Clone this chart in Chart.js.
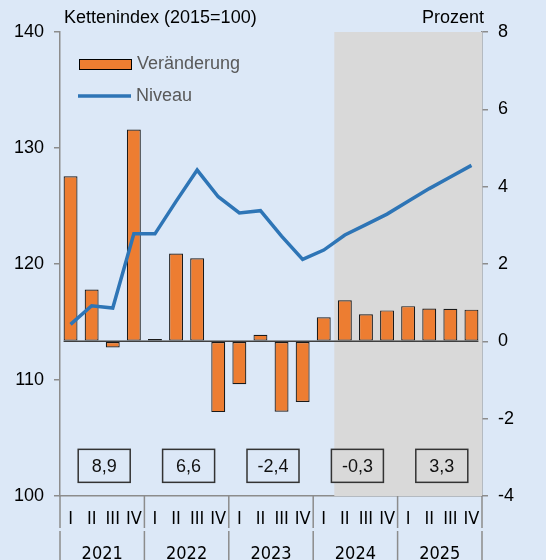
<!DOCTYPE html>
<html>
<head>
<meta charset="utf-8">
<script src="https://cdn.jsdelivr.net/npm/chart.js@4.4.1/dist/chart.umd.min.js"></script>
<style>
  html, body { margin: 0; padding: 0; background: #dce8f7; }
  #wrap { width: 546px; height: 560px; }
</style>
</head>
<body>
<div id="wrap"><canvas id="chart" width="546" height="560"></canvas></div>
<script>
const quarters = ["I", "II", "III", "IV", "I", "II", "III", "IV", "I", "II", "III", "IV",
  "I", "II", "III", "IV", "I", "II", "III", "IV"];
const years = ["2021", "2022", "2023", "2024", "2025"];
// Veraenderung gegenueber Vorquartal, Prozent (rechte Achse)
const veraenderung = [4.27, 1.34, -0.16, 5.48, 0.06, 2.27, 2.15, -1.83, -1.11, 0.17,
  -1.82, -1.57, 0.62, 1.06, 0.70, 0.80, 0.91, 0.85, 0.84, 0.82];
// Niveau, Kettenindex 2015=100 (linke Achse)
const niveau = [114.8, 116.4, 116.2, 122.6, 122.6, 125.4, 128.1, 125.8, 124.4, 124.6,
  122.4, 120.4, 121.2, 122.5, 123.4, 124.3, 125.4, 126.5, 127.5, 128.5];
// Jahresraten in Prozent
const jahresraten = ["8,9", "6,6", "-2,4", "-0,3", "3,3"];
const prognoseAb = 13; // erstes Prognosequartal (2024 II)

const bg = "#dce8f7";
const shade = "#d9d9d9";
const orange = "#ed7d31";
const blue = "#2e75b6";
const axisGray = "#8c8c8c";
const sans = "'Liberation Sans', Arial, sans-serif";
const narrow = "'Liberation Sans Narrow', 'Arial Narrow', 'DejaVu Sans Condensed', sans-serif";

// Grenze vor Quartal i (Pixel)
const edge = (x, i) => {
  if (i <= 0) return x.left;
  if (i >= quarters.length) return x.right;
  return (x.getPixelForValue(i - 1) + x.getPixelForValue(i)) / 2;
};

const deko = {
  id: "deko",
  beforeDraw(chart) {
    const ctx = chart.ctx;
    ctx.save();
    ctx.fillStyle = bg;
    ctx.fillRect(0, 0, chart.width, chart.height);
    ctx.restore();
  },
  beforeDatasetsDraw(chart) {
    const ctx = chart.ctx;
    const a = chart.chartArea;
    const x = chart.scales.x;
    const x0 = edge(x, prognoseAb);
    ctx.save();
    ctx.fillStyle = shade;
    ctx.fillRect(x0, a.top, a.right - x0, a.bottom - a.top);
    ctx.restore();
  },
  afterDatasetsDraw(chart) {
    const ctx = chart.ctx;
    const x = chart.scales.x;
    const y1 = chart.scales.y1;
    const bars = chart.getDatasetMeta(1).data;
    const w = bars[0].width;
    const yz = y1.getPixelForValue(0);
    ctx.save();
    ctx.strokeStyle = "#404040";
    ctx.lineWidth = 1.5;
    ctx.beginPath();
    ctx.moveTo(x.getPixelForValue(0) - w / 2, yz);
    ctx.lineTo(x.getPixelForValue(quarters.length - 1) + w / 2, yz);
    ctx.stroke();
    ctx.restore();
  },
  afterDraw(chart) {
    const ctx = chart.ctx;
    const a = chart.chartArea;
    const x = chart.scales.x;
    const y1 = chart.scales.y1;
    ctx.save();

    // Trennlinien unter der Achse
    ctx.strokeStyle = axisGray;
    ctx.lineWidth = 1.5;
    for (let k = 0; k <= years.length; k++) {
      const px = edge(x, k * 4);
      ctx.beginPath();
      ctx.moveTo(px, a.bottom);
      ctx.lineTo(px, 528);
      ctx.moveTo(px, 531);
      ctx.lineTo(px, chart.height);
      ctx.stroke();
    }

    // Jahre
    ctx.fillStyle = "#000";
    ctx.font = "18px " + narrow;
    ctx.textAlign = "center";
    ctx.textBaseline = "middle";
    for (let k = 0; k < years.length; k++) {
      const cx = (edge(x, k * 4) + edge(x, k * 4 + 4)) / 2;
      ctx.fillText(years[k], cx, 554);
    }

    // Kaesten mit Jahresraten
    const boxY = y1.getPixelForValue(-3.22);
    ctx.font = "18px " + sans;
    for (let k = 0; k < jahresraten.length; k++) {
      const cx = (edge(x, k * 4) + edge(x, k * 4 + 4)) / 2 + 2;
      ctx.fillStyle = cx > edge(x, prognoseAb) ? shade : bg;
      ctx.fillRect(cx - 26, boxY - 16.5, 52, 33);
      ctx.strokeStyle = "#333";
      ctx.lineWidth = 1.5;
      ctx.strokeRect(cx - 26, boxY - 16.5, 52, 33);
      ctx.fillStyle = "#111";
      ctx.fillText(jahresraten[k], cx, boxY + 1);
    }

    // Achsentitel
    ctx.fillStyle = "#000";
    ctx.textAlign = "left";
    ctx.fillText("Kettenindex (2015=100)", 64, 18);
    ctx.textAlign = "right";
    ctx.fillText("Prozent", 484, 18);

    // Legende
    const ds = chart.data.datasets;
    ctx.fillStyle = orange;
    ctx.fillRect(79, 59, 52, 10);
    ctx.strokeStyle = "#000";
    ctx.lineWidth = 1;
    ctx.strokeRect(79.5, 59.5, 52, 10);
    ctx.strokeStyle = blue;
    ctx.lineWidth = 3.5;
    ctx.beginPath();
    ctx.moveTo(78, 96);
    ctx.lineTo(131, 96);
    ctx.stroke();
    ctx.fillStyle = "#595959";
    ctx.textAlign = "left";
    ctx.fillText(ds[1].label, 137, 64);
    ctx.fillText(ds[0].label, 136, 96);

    ctx.restore();
  }
};

const ctx = document.getElementById("chart");
const chart = new Chart(ctx, {
  data: {
    labels: quarters,
    datasets: [
      {
        type: "line",
        label: "Niveau",
        data: niveau,
        yAxisID: "y",
        borderColor: blue,
        borderWidth: 3.5,
        pointRadius: 0,
        tension: 0,
        order: 0,
      },
      {
        type: "bar",
        label: "Veränderung",
        data: veraenderung,
        yAxisID: "y1",
        backgroundColor: orange,
        borderColor: "#1a1a1a",
        borderWidth: 1.2,
        borderSkipped: false,
        categoryPercentage: 1,
        barPercentage: 0.66,
        order: 1,
      },
    ],
  },
  options: {
    responsive: false,
    animation: false,
    devicePixelRatio: 1,
    layout: { padding: { top: 32, left: 0, right: 0, bottom: 0 } },
    plugins: {
      legend: { display: false },
      tooltip: { enabled: false },
      title: { display: false },
    },
    scales: {
      x: {
        type: "category",
        offset: true,
        grid: { display: false, drawTicks: false },
        border: { display: true, color: axisGray, width: 1.5 },
        ticks: {
          color: "#000",
          font: { family: narrow, size: 18 },
          padding: 13,
          maxRotation: 0,
          autoSkip: false,
        },
        afterFit(s) { s.height = 64; },
      },
      y: {
        position: "left",
        min: 100,
        max: 140,
        ticks: { stepSize: 10, color: "#000", font: { family: sans, size: 18 }, padding: 10 },
        grid: { drawOnChartArea: false, tickLength: 6, color: axisGray, lineWidth: 1.5 },
        border: { color: axisGray, width: 1.5 },
        afterFit(s) { s.width = 60; },
      },
      y1: {
        position: "right",
        min: -4,
        max: 8,
        ticks: { stepSize: 2, color: "#000", font: { family: sans, size: 18 }, padding: 10 },
        grid: { drawOnChartArea: false, tickLength: 6, color: axisGray, lineWidth: 1.5 },
        border: { color: axisGray, width: 1.5 },
        afterFit(s) { s.width = 64; },
      },
    },
  },
  plugins: [deko],
});
</script>
</body>
</html>
